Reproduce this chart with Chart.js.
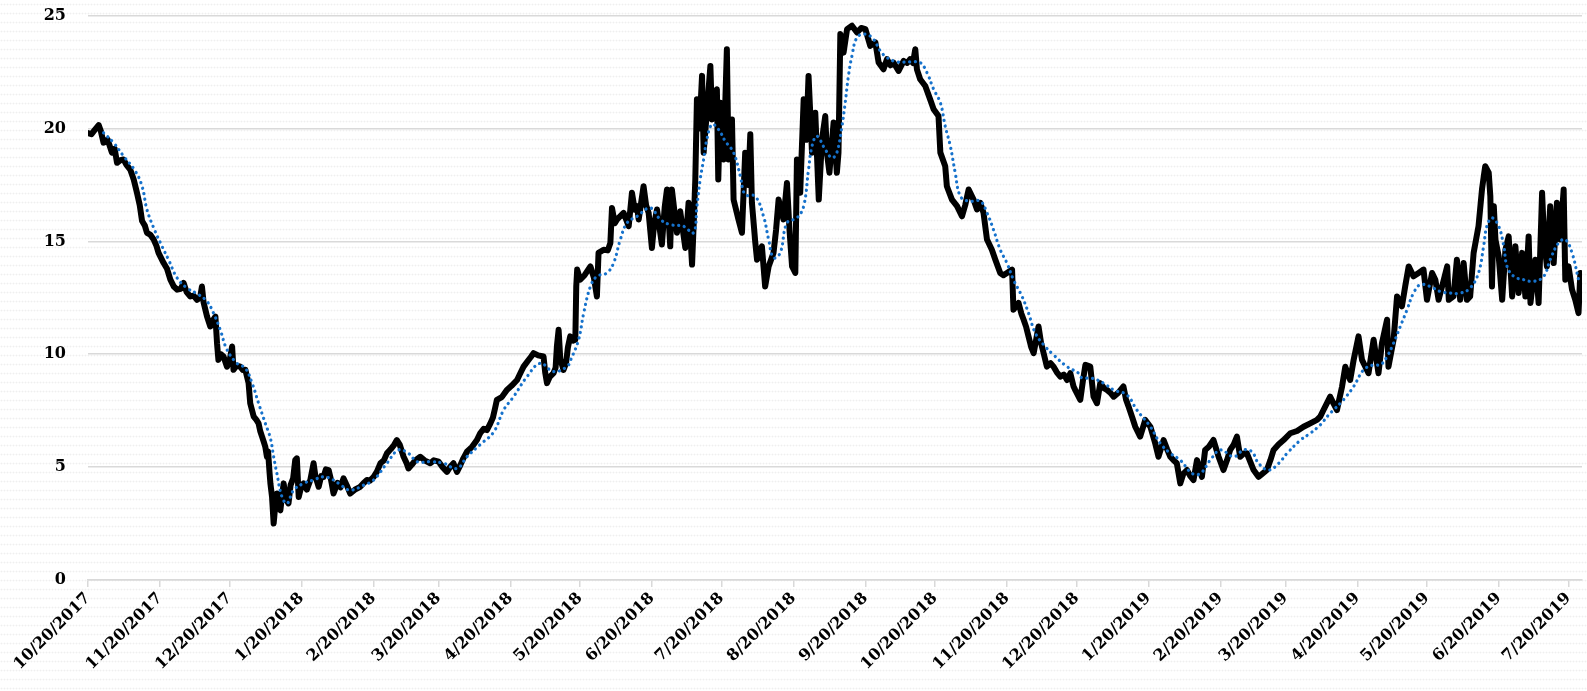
<!DOCTYPE html>
<html>
<head>
<meta charset="utf-8">
<script src="https://cdn.jsdelivr.net/npm/chart.js@4.4.1/dist/chart.umd.min.js"></script>
<style>
    html, body { margin: 0; padding: 0; }
    body {
        width: 1587px; height: 691px; overflow: hidden;
        background-color: #fff;
        background-image: radial-gradient(circle, #efefef 0.8px, transparent 1.1px);
        background-size: 3px 9px;
    }
    canvas { display: block; }
</style>
</head>
<body>
<canvas id="grafico" width="1587" height="691"></canvas>
<script>
// dias contados a partir de 10/20/2017
const dataInicial = [2017, 10, 20];

const tickLabels = ["10/20/2017", "11/20/2017", "12/20/2017", "1/20/2018", "2/20/2018", "3/20/2018",
    "4/20/2018", "5/20/2018", "6/20/2018", "7/20/2018", "8/20/2018", "9/20/2018", "10/20/2018",
    "11/20/2018", "12/20/2018", "1/20/2019", "2/20/2019", "3/20/2019", "4/20/2019", "5/20/2019",
    "6/20/2019", "7/20/2019"];

// serie principal (preto)
const dias = [0, 1.5, 3, 4.6, 5.5, 6.7, 8.5, 10.3, 11.5, 12.5, 14, 15.3, 16.5, 18.2, 19.7, 21.1, 22.3, 23.3, 24.5, 25.4,
    26.8, 28.3, 29.5, 30.4, 32.6, 34, 35.5, 37, 38.4, 40, 41.2, 42.5, 44.1, 45.5, 47, 48.3, 49.1, 49.8, 51.3, 52.7,
    53.8, 54.9, 55.3, 55.6, 56.2, 57.3, 58.4, 59.9, 61, 62.1, 62.7, 64, 65.6, 66.7, 67.8, 69.2, 69.9, 71.4, 72.5, 73.5,
    74.2, 75, 75.8, 76.4, 77.1, 77.6, 78.2, 78.6, 79.3, 80, 80.7, 81.4, 82.1, 82.9, 83.6, 84.3, 85.3, 86.4, 87.3, 88.4,
    89.3, 90, 90.8, 91.8, 92.9, 94.3, 95.8, 97.2, 98, 99.4, 100.5, 101.5, 102.5, 103.7, 104.8, 105.8, 107.5, 108.8, 110.1, 111.5,
    113, 115, 117.3, 118.8, 120.2, 121.5, 123.1, 124.5, 126, 127.5, 128.8, 130.5, 132, 133.1, 134.3, 136, 137.2, 138.1, 139.5, 141,
    143.2, 145, 147.5, 149, 151.1, 152.8, 154.7, 156, 157.5, 159, 160.5, 161.8, 163.3, 165.5, 167.6, 169, 170.5, 171.9, 173.4, 174.5,
    175.4, 176.2, 178.3, 180.5, 182.5, 184.9, 186.5, 187.7, 189.5, 191, 192, 194, 196.3, 197, 197.8, 199, 200.6, 201.5, 202.1, 202.8,
    203.5, 204.9, 206, 206.8, 207.8, 209, 210, 210.4, 210.8, 212.1, 214, 216.5, 218, 219.3, 220, 222.2, 224, 225.1, 225.8, 227,
    228, 230.8, 233, 234.4, 235.6, 236.6, 237.3, 239.4, 240.5, 241.6, 243, 244, 245.2, 247.3, 248.5, 249.5, 250.9, 251.6, 253.8, 255.2,
    257.4, 258.8, 260.3, 261.1, 261.7, 262.4, 263.5, 264.6, 265.3, 266.5, 268.2, 268.9, 270, 271, 271.6, 272.5, 273.9, 275.3, 276, 277.5,
    278.2, 280.3, 281.8, 283.2, 284.5, 285.4, 286.1, 287.5, 288.3, 290.4, 291.8, 293.3, 295.4, 296.5, 297.6, 299.7, 301.2, 302.3, 303.4, 304.8,
    305.5, 306.9, 308.4, 309.5, 310.5, 312, 313.4, 314.9, 316.3, 317.7, 318.4, 319.5, 321.3, 322.7, 323.4, 324.2, 325.6, 327.1, 329.2, 331.4,
    333.2, 335, 337.1, 339.3, 340.7, 342.8, 344.3, 345.8, 347.1, 349.3, 351.5, 353, 354.3, 355.5, 356.5, 357.2, 358.6, 360.8, 362.9, 364.4,
    366.5, 367.3, 369.4, 370.1, 372.3, 374.5, 376.6, 378, 379.5, 381.6, 383.1, 384.5, 385.9, 387.4, 389.5, 391, 393.1, 394.5, 396, 398.2,
    398.8, 401, 402.2, 403.2, 404.3, 405.3, 406.5, 407.5, 408.5, 409.6, 410.7, 411.8, 413.2, 414.8, 416.1, 417.5, 419, 420.5, 421.9, 423.3,
    424.7, 425.4, 427.6, 428.7, 429.8, 431.9, 433.3, 434.8, 436.2, 437.8, 439.1, 440.5, 442, 444, 446.2, 447.3, 448.4, 450, 451.3, 453.4,
    455.6, 457.8, 459.9, 461.3, 463.5, 465, 466.4, 467.8, 469.2, 470.7, 472, 473.6, 475, 476.4, 477.9, 480, 481.4, 483, 485, 487.2,
    489.3, 490.8, 492.2, 493.7, 495.1, 496.5, 498, 499.4, 501, 502.3, 504.4, 506, 508, 509.5, 510.9, 513, 515.2, 518.1, 521, 523.8,
    526.7, 529.6, 531, 532.4, 535.3, 536.8, 538.2, 540.4, 541.8, 543.9, 545.4, 547.5, 549, 551.8, 554, 556.1, 557.6, 559.8, 560.4, 562.6,
    564.1, 566.2, 567.6, 569.1, 571.2, 573.4, 575.5, 577, 579.2, 580.6, 582, 584, 585.7, 586.4, 588.4, 589.9, 591.3, 592.8, 594.2, 595.6,
    597.1, 599.2, 600.7, 601.5, 602.1, 603.6, 604.3, 605, 605.8, 606.5, 607.9, 609.4, 610.8, 612.2, 613.7, 615.1, 616.5, 618, 619.4, 620.8,
    621.6, 623.7, 625.1, 626.6, 627.5, 628.7, 630.1, 631.6, 633, 634.4, 635.9, 636.6, 638, 639.5, 640.9, 642.3, 643.1, 643.8];

const valores = [19.8, 19.75, 19.95, 20.15, 19.9, 19.37, 19.5, 18.93, 19.1, 18.48, 18.6, 18.63, 18.4, 18.18, 17.74, 17.15, 16.6, 15.9, 15.7, 15.38,
    15.3, 15.08, 14.8, 14.49, 14.04, 13.8, 13.3, 13.0, 12.86, 12.9, 13.16, 12.75, 12.56, 12.6, 12.41, 12.5, 13.0, 12.3, 11.67, 11.23,
    11.5, 11.67, 11.0, 10.49, 9.75, 10.0, 9.9, 9.45, 9.7, 10.34, 9.31, 9.5, 9.45, 9.3, 9.31, 8.72, 7.83, 7.24, 7.1, 6.94,
    6.6, 6.35, 6.1, 5.9, 5.46, 5.7, 4.8, 4.28, 3.68, 2.5, 3.3, 3.83, 3.2, 3.09, 3.7, 4.28, 3.6, 3.39, 4.2, 4.5,
    5.31, 5.39, 3.68, 4.1, 4.28, 4.0, 4.43, 5.17, 4.6, 4.13, 4.6, 4.57, 4.9, 4.87, 4.4, 3.83, 4.3, 4.1, 4.5, 4.2,
    3.83, 4.0, 4.13, 4.3, 4.43, 4.4, 4.57, 4.8, 5.17, 5.3, 5.61, 5.8, 6.0, 6.2, 6.0, 5.46, 5.2, 4.94, 5.1, 5.3,
    5.46, 5.3, 5.17, 5.3, 5.24, 5.0, 4.79, 5.0, 5.17, 4.79, 5.1, 5.4, 5.68, 5.9, 6.2, 6.5, 6.7, 6.64, 6.94, 7.2,
    7.6, 7.98, 8.1, 8.42, 8.6, 8.86, 9.2, 9.45, 9.7, 9.9, 10.05, 9.95, 9.9, 9.2, 8.72, 9.0, 9.16, 9.4, 10.4, 11.08,
    9.8, 9.31, 9.6, 10.3, 10.79, 10.6, 10.64, 13.0, 13.75, 13.3, 13.5, 13.89, 13.4, 12.56, 14.49, 14.63, 14.6, 14.93, 16.48, 15.8,
    15.97, 16.26, 15.67, 17.15, 16.4, 16.56, 15.97, 17.44, 16.6, 16.26, 14.71, 15.8, 16.41, 14.86, 16.5, 17.3, 14.78, 17.3, 15.38, 16.33,
    14.71, 16.71, 13.97, 16.0, 17.74, 21.29, 20.0, 22.33, 18.93, 20.5, 22.77, 20.4, 21.0, 21.74, 17.74, 21.14, 18.63, 23.51, 18.63, 20.4,
    16.85, 15.97, 15.38, 18.93, 17.5, 19.74, 16.71, 15.0, 14.19, 14.78, 13.0, 13.89, 14.49, 15.5, 16.85, 15.97, 17.59, 15.5, 13.89, 13.6,
    18.63, 17.15, 21.29, 19.5, 22.33, 18.93, 20.7, 16.85, 19.52, 20.55, 18.93, 18.04, 20.26, 18.04, 18.93, 24.18, 23.36, 24.4, 24.55, 24.25,
    24.45, 24.4, 23.66, 23.81, 22.92, 22.62, 23.07, 22.8, 22.92, 22.55, 22.99, 22.9, 23.07, 22.9, 23.51, 22.62, 22.18, 21.88, 21.29, 20.85,
    20.55, 18.93, 18.33, 17.44, 16.85, 16.56, 16.11, 16.6, 17.3, 16.85, 16.41, 16.71, 16.26, 15.08, 14.63, 14.19, 13.6, 13.5, 13.6, 13.75,
    11.97, 12.27, 11.8, 11.53, 11.2, 10.79, 10.3, 10.05, 10.6, 11.23, 10.5, 10.05, 9.45, 9.6, 9.45, 9.2, 9.01, 9.1, 8.86, 9.16,
    8.57, 8.42, 7.98, 8.8, 9.53, 9.45, 8.12, 7.83, 8.72, 8.5, 8.42, 8.3, 8.12, 8.3, 8.57, 8.0, 7.68, 7.2, 6.79, 6.35,
    7.09, 6.79, 6.05, 5.46, 6.2, 5.8, 5.46, 5.3, 5.17, 4.28, 4.7, 4.87, 4.6, 4.43, 5.31, 4.57, 5.76, 5.9, 6.2, 5.46,
    4.87, 5.3, 5.76, 6.0, 6.35, 5.46, 5.6, 5.61, 5.2, 4.87, 4.57, 4.7, 4.87, 5.3, 5.76, 6.0, 6.2, 6.5, 6.6, 6.79,
    6.94, 7.09, 7.24, 7.53, 8.12, 7.8, 7.53, 8.57, 9.45, 8.86, 9.75, 10.79, 9.75, 9.16, 10.64, 9.16, 10.49, 11.53, 9.45, 10.64,
    12.56, 12.12, 13.0, 13.89, 13.45, 13.6, 13.75, 12.41, 13.6, 13.3, 12.41, 13.2, 13.89, 12.41, 12.56, 14.19, 12.41, 14.04, 12.41, 12.56,
    14.49, 15.67, 17.3, 17.9, 18.33, 18.04, 17.0, 13.0, 16.56, 15.08, 14.34, 12.41, 14.63, 15.22, 12.56, 14.78, 12.71, 14.49, 12.56, 15.22,
    12.27, 14.19, 12.27, 17.15, 15.0, 13.89, 16.56, 14.04, 16.71, 15.08, 17.3, 13.3, 13.89, 12.86, 12.41, 11.82, 13.6, 12.56];

// media movel (azul pontilhado)
const diasMedia = [6.7, 11, 15.3, 20.4, 23.3, 25.4, 28.3, 31.9, 34.7, 38.4, 42.7, 47.7, 51.3, 54.1, 57, 59.9, 64.2, 67.8, 70.7, 73.5,
    76.4, 78.6, 80, 81.4, 83.6, 85.8, 88.6, 92.9, 97.2, 101.5, 105.8, 109, 113, 118.8, 123.1, 128.8, 133.8, 138.1, 141.8, 147.5,
    153.2, 159, 163.3, 169, 174.8, 179.1, 183.4, 189.2, 194.9, 200.6, 206.4, 208, 211.4, 213.6, 216.5, 219.3, 223.6, 226.5, 229.4, 232.3,
    236.6, 242.3, 246.6, 250.9, 256.6, 260.9, 262.4, 263.8, 265.3, 266.7, 268.9, 271.7, 274.6, 278.2, 281.1, 283.2, 287.5, 291.1, 293.3, 295.4,
    298.3, 301.2, 305.5, 308.4, 310.5, 312, 314.1, 317.7, 320.6, 322.7, 324.9, 326.3, 327.7, 329.2, 331.4, 335, 338.5, 341.4, 344.3, 348.6,
    354.3, 358.6, 361.5, 364.4, 367.3, 369.4, 371.6, 373.7, 375.9, 379.5, 384.5, 387.4, 390.2, 393.1, 396, 398.8, 402.5, 405.3, 408.2, 411.8,
    416.1, 421.9, 426.9, 428.3, 432.6, 437.6, 442, 447.7, 452, 457.8, 462.1, 466.4, 470.7, 475.8, 479.4, 483.6, 488, 493.7, 498, 501.6,
    504.4, 508.8, 513.1, 516.7, 522.5, 526.7, 531, 534.6, 536.7, 541, 545.4, 549.7, 554, 556.9, 559.8, 562.6, 565.5, 568.4, 571.2, 574.1,
    578.4, 582.7, 587, 591.3, 595.6, 599.2, 601.4, 602.8, 605, 607.9, 610.1, 611.5, 614.4, 618.7, 623, 627.3, 630.1, 633.7, 636.6, 639.5, 642.3];

const valoresMedia = [19.81, 19.37, 18.78, 18.11, 17.44, 16.41, 15.6, 14.78, 14.19, 13.38, 12.93, 12.64, 12.34, 11.82, 11.08, 10.2, 9.6, 9.38, 8.72, 7.83,
    6.94, 6.28, 5.46, 4.72, 3.68, 3.39, 3.98, 4.28, 4.43, 4.57, 4.43, 4.2, 3.98, 4.2, 4.43, 5.17, 5.76, 5.61, 5.24, 5.24,
    5.17, 4.94, 5.46, 6.0, 6.55, 7.53, 8.12, 9.01, 9.6, 9.23, 9.45, 9.75, 10.64, 11.82, 13.0, 13.45, 13.6, 14.04, 15.08, 15.82,
    16.11, 16.48, 15.97, 15.74, 15.67, 15.38, 16.56, 17.74, 18.63, 19.52, 20.18, 19.96, 19.44, 18.93, 17.89, 17.07, 17.0, 16.11, 15.08, 14.27,
    14.49, 15.82, 16.04, 16.56, 18.18, 19.22, 19.66, 19.07, 18.7, 18.93, 20.1, 21.14, 22.33, 23.21, 24.03, 24.18, 23.95, 23.44, 23.14, 22.95,
    22.95, 22.92, 22.48, 21.74, 21.14, 20.1, 19.22, 18.04, 17.0, 16.78, 16.78, 16.26, 15.52, 14.63, 14.04, 13.3, 12.56, 11.82, 10.94, 10.42,
    9.97, 9.45, 9.16, 8.95, 8.94, 8.72, 8.42, 8.2, 7.53, 6.79, 6.05, 5.61, 5.31, 4.72, 4.72, 5.31, 5.76, 5.46, 5.76, 5.68,
    5.17, 4.87, 5.17, 5.61, 6.2, 6.5, 6.87, 7.31, 7.53, 7.98, 8.57, 9.31, 9.53, 9.53, 9.9, 10.49, 11.23, 11.97, 12.71, 13.08,
    13.0, 12.78, 12.71, 12.71, 12.93, 13.6, 14.78, 15.67, 16.04, 15.67, 14.78, 13.89, 13.45, 13.3, 13.23, 13.45, 14.19, 14.93, 15.08, 14.49, 13.3];

// converte "m/d/aaaa" em dias desde a data inicial
function diasDesdeInicio(label) {
    const [m, d, a] = label.split("/").map(Number);
    const base = Date.UTC(dataInicial[0], dataInicial[1] - 1, dataInicial[2]);
    return Math.round((Date.UTC(a, m - 1, d) - base) / 86400000);
}
const tickDias = tickLabels.map(diasDesdeInicio);

const fonte = { family: "'DejaVu Serif', 'Liberation Serif', serif", size: 16, weight: "bold" };

new Chart(document.getElementById("grafico"), {
    type: "line",
    data: {
        datasets: [{
            data: diasMedia.map((x, i) => ({ x: x, y: valoresMedia[i] })),
            borderColor: "#1672cc",
            borderWidth: 3.2,
            borderDash: [0.1, 5.6],
            borderCapStyle: "round",
            pointRadius: 0,
            tension: 0.4,
            order: 0
        }, {
            data: dias.map((x, i) => ({ x: x, y: valores[i] })),
            borderColor: "#000",
            borderWidth: 6,
            borderJoinStyle: "round",
            borderCapStyle: "round",
            pointRadius: 0,
            tension: 0,
            order: 1
        }]
    },
    options: {
        responsive: false,
        animation: false,
        layout: { padding: { top: 0, right: 5, left: 0, bottom: 0 } },
        plugins: { legend: { display: false }, tooltip: { enabled: false } },
        scales: {
            x: {
                type: "linear",
                min: 0,
                max: 643.8,
                afterBuildTicks: scale => { scale.ticks = tickDias.map(v => ({ value: v })); },
                afterFit: scale => { scale.height = 111; scale.paddingRight = 5; },
                border: { display: true, color: "#d9d9d9", width: 1.5 },
                grid: { drawOnChartArea: false, drawTicks: true, tickLength: 7, color: "#d9d9d9", lineWidth: 1.5 },
                ticks: {
                    autoSkip: false,
                    maxRotation: 45,
                    minRotation: 45,
                    padding: 2,
                    color: "#000",
                    font: fonte,
                    callback: (v, i) => tickLabels[i]
                }
            },
            y: {
                min: 0,
                max: 25,
                afterFit: scale => { scale.width = 88; scale.paddingTop = 15.6; scale.paddingBottom = 0; },
                border: { display: false },
                grid: { drawTicks: false, color: "#d9d9d9", lineWidth: 1.5 },
                ticks: { stepSize: 5, padding: 22, color: "#000", font: fonte }
            }
        }
    }
});
</script>
</body>
</html>
